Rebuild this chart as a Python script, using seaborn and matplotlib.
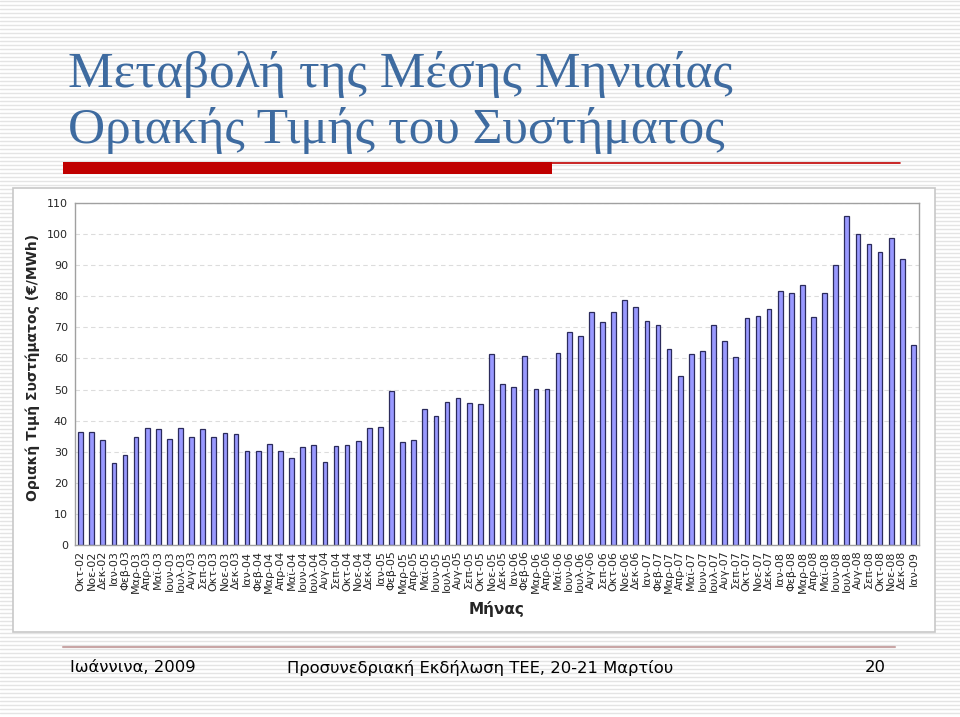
import matplotlib
matplotlib.use("Agg")
import matplotlib.pyplot as plt
import seaborn as sns
import pandas as pd
from matplotlib.patches import Rectangle

months = ["Οκτ-02", "Νοε-02", "Δεκ-02",
          "Ιαν-03", "Φεβ-03", "Μαρ-03", "Απρ-03", "Μαϊ-03", "Ιουν-03", "Ιουλ-03", "Αυγ-03", "Σεπ-03", "Οκτ-03", "Νοε-03", "Δεκ-03",
          "Ιαν-04", "Φεβ-04", "Μαρ-04", "Απρ-04", "Μαϊ-04", "Ιουν-04", "Ιουλ-04", "Αυγ-04", "Σεπ-04", "Οκτ-04", "Νοε-04", "Δεκ-04",
          "Ιαν-05", "Φεβ-05", "Μαρ-05", "Απρ-05", "Μαϊ-05", "Ιουν-05", "Ιουλ-05", "Αυγ-05", "Σεπ-05", "Οκτ-05", "Νοε-05", "Δεκ-05",
          "Ιαν-06", "Φεβ-06", "Μαρ-06", "Απρ-06", "Μαϊ-06", "Ιουν-06", "Ιουλ-06", "Αυγ-06", "Σεπ-06", "Οκτ-06", "Νοε-06", "Δεκ-06",
          "Ιαν-07", "Φεβ-07", "Μαρ-07", "Απρ-07", "Μαϊ-07", "Ιουν-07", "Ιουλ-07", "Αυγ-07", "Σεπ-07", "Οκτ-07", "Νοε-07", "Δεκ-07",
          "Ιαν-08", "Φεβ-08", "Μαρ-08", "Απρ-08", "Μαϊ-08", "Ιουν-08", "Ιουλ-08", "Αυγ-08", "Σεπ-08", "Οκτ-08", "Νοε-08", "Δεκ-08",
          "Ιαν-09"]

prices = [36.2, 36.5, 33.9,
          26.5, 29.1, 34.6, 37.7, 37.3, 34.2, 37.7, 34.6, 37.3, 34.8, 36.0, 35.6,
          30.2, 30.2, 32.4, 30.2, 27.9, 31.4, 32.2, 26.8, 31.7, 32.2, 33.6, 37.6,
          37.8, 49.5, 33.0, 33.9, 43.9, 41.5, 46.1, 47.2, 45.8, 45.2, 61.5, 51.9,
          50.9, 60.7, 50.3, 50.3, 61.7, 68.6, 67.3, 74.9, 71.8, 74.9, 78.9, 76.6,
          72.0, 70.6, 62.9, 54.4, 61.5, 62.4, 70.9, 65.5, 60.4, 73.0, 73.5, 75.8,
          81.8, 81.1, 83.7, 73.3, 80.9, 90.2, 105.7, 99.9, 96.8, 94.4, 98.6, 92.0,
          64.2]

yticks = list(range(0, 111, 10))

title_lines = ["Μεταβολή της Μέσης Μηνιαίας", "Οριακής Τιμής του Συστήματος"]
ylabel = "Οριακή Τιμή Συστήματος (€/MWh)"
xlabel = "Μήνας"
footer_left = "Ιωάννινα, 2009"
footer_mid = "Προσυνεδριακή Εκδήλωση ΤΕΕ, 20-21 Μαρτίου"
footer_right = "20"

df = pd.DataFrame({"month": months, "price": prices})

sns.set_theme(style="white")
plt.rcParams["font.family"] = ["DejaVu Sans"]

W, H = 960, 717
fig = plt.figure(figsize=(W / 100, H / 100), dpi=100)
fig.patch.set_facecolor("white")

# striped slide background
bg = fig.add_axes([0, 0, 1, 1], zorder=-10)
bg.set_xlim(0, W)
bg.set_ylim(H, 0)
bg.axis("off")
for yy in range(1, H, 4):
    bg.axhline(yy, color="#e4e4e4", lw=1.0, zorder=1)

# title
bg.text(68, 75, title_lines[0], family="Liberation Serif", fontsize=37,
        color="#3e6ba0", va="center", ha="left", zorder=5)
bg.text(68, 130, title_lines[1], family="Liberation Serif", fontsize=37,
        color="#3e6ba0", va="center", ha="left", zorder=5)
# red bar
bg.add_patch(Rectangle((63, 162), 489, 12, color="#c00000", lw=0, zorder=5))
bg.plot([552, 900], [162.5, 162.5], color="#c00000", lw=1.2, zorder=5)

# chart panel
bg.add_patch(Rectangle((13, 188), 922, 444, facecolor="white", edgecolor="#c8c8c8",
                       lw=1.2, zorder=4))

# footer
bg.plot([63, 895], [647, 647], color="#c9a6a6", lw=1.5, zorder=5)
bg.text(70, 668, footer_left, fontsize=11.8, va="center", ha="left", color="black", zorder=5)
bg.text(480, 668, footer_mid, fontsize=11.8, va="center", ha="center", color="black", zorder=5)
bg.text(886, 668, footer_right, fontsize=11.8, va="center", ha="right", color="black", zorder=5)

# bar chart
ax = fig.add_axes([75 / W, 1 - 545 / H, (919 - 75) / W, (545 - 203) / H])
sns.barplot(data=df, x="month", y="price", ax=ax, color="#9999ff",
            saturation=1, width=0.42, edgecolor="#2b2b5c", linewidth=0.9)
ax.set_ylim(0, 110)
ax.set_xlim(-0.5, len(months) - 0.5)
ax.set_yticks(yticks)
ax.set_yticklabels([str(t) for t in yticks], fontsize=8)
ax.set_xticks(range(len(months)))
ax.set_xticklabels(months, rotation=90, fontsize=8)
ax.yaxis.grid(True, linestyle=(0, (4, 3)), color="#dcdcdc", lw=0.8)
ax.set_axisbelow(True)
for s in ax.spines.values():
    s.set_color("#a0a0a0")
    s.set_linewidth(1.0)
ax.tick_params(axis="x", length=3, color="#a0a0a0", pad=1)
ax.tick_params(axis="y", length=0, pad=5)
ax.set_xlabel(xlabel, fontsize=11, fontweight="bold", labelpad=6)
ax.set_ylabel(ylabel, fontsize=10, fontweight="bold")
ax.yaxis.set_label_coords(-0.042, 0.52)

fig.savefig("out.png", dpi=100)
